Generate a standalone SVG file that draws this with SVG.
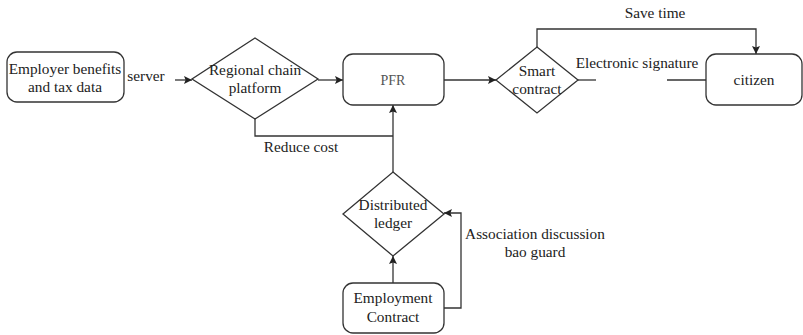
<svg xmlns="http://www.w3.org/2000/svg" width="803" height="335" viewBox="0 0 803 335" font-family="'Liberation Serif', 'DejaVu Serif', serif">
<style>
.n{fill:#fff;stroke:#333;stroke-width:1.3}
.c{fill:none;stroke:#333;stroke-width:1.3}
text{font-family:'Liberation Serif','DejaVu Serif',serif;font-size:15.3px;fill:#222;text-anchor:middle}
.pfr{font-size:14px;fill:#555}
</style>
<defs>
<marker id="a" viewBox="0 0 10 10" refX="10" refY="5" markerWidth="8" markerHeight="8" markerUnits="userSpaceOnUse" orient="auto">
<path d="M0,0 L10,5 L0,10 L2,5 Z" fill="#222"/>
</marker>
</defs>
<rect width="803" height="335" fill="#fff"/>
<g id="connectors">
<line class="c" x1="175" y1="80" x2="192" y2="80" marker-end="url(#a)"/>
<line class="c" x1="318" y1="80" x2="343" y2="80" marker-end="url(#a)"/>
<line class="c" x1="444" y1="80" x2="496" y2="80" marker-end="url(#a)"/>
<line class="c" x1="578" y1="80" x2="596" y2="80"/>
<line class="c" x1="667" y1="80" x2="706" y2="80"/>
<polyline class="c" points="537,47 537,29 756,29 756,54" marker-end="url(#a)"/>
<polyline class="c" points="255,119 255,136 393,136"/>
<line class="c" x1="393" y1="172" x2="393" y2="105" marker-end="url(#a)"/>
<line class="c" x1="393" y1="283" x2="393" y2="256" marker-end="url(#a)"/>
<polyline class="c" points="444,308 461,308 461,213 444,213" marker-end="url(#a)"/>
<text x="146" y="81">server</text>
<text x="655" y="18">Save time</text>
<text x="637" y="68">Electronic signature</text>
<text x="301" y="152">Reduce cost</text>
<text x="535" y="239">Association discussion</text>
<text x="535" y="257">bao guard</text>
</g>
<g id="employer">
<rect class="n" x="7" y="52" width="117" height="50" rx="10"/>
<text x="65" y="74">Employer benefits</text>
<text x="65" y="92">and tax data</text>
</g>
<g id="regional">
<polygon class="n" points="255,38 318,79 255,119 192,79"/>
<text x="255" y="75">Regional chain</text>
<text x="255" y="93">platform</text>
</g>
<g id="pfr">
<rect class="n" x="343" y="54" width="101" height="51" rx="10"/>
<text class="pfr" x="393" y="85">PFR</text>
</g>
<g id="smart">
<polygon class="n" points="537,47 578,80 537,113 496,80"/>
<text x="537" y="76">Smart</text>
<text x="537" y="94">contract</text>
</g>
<g id="citizen">
<rect class="n" x="706" y="54" width="96" height="51" rx="10"/>
<text x="754" y="85">citizen</text>
</g>
<g id="ledger">
<polygon class="n" points="393,172 444,214 393,256 343,214"/>
<text x="393" y="210">Distributed</text>
<text x="393" y="228">ledger</text>
</g>
<g id="employment">
<rect class="n" x="343" y="283" width="101" height="50" rx="10"/>
<text x="393" y="303">Employment</text>
<text x="393" y="322">Contract</text>
</g>
</svg>
